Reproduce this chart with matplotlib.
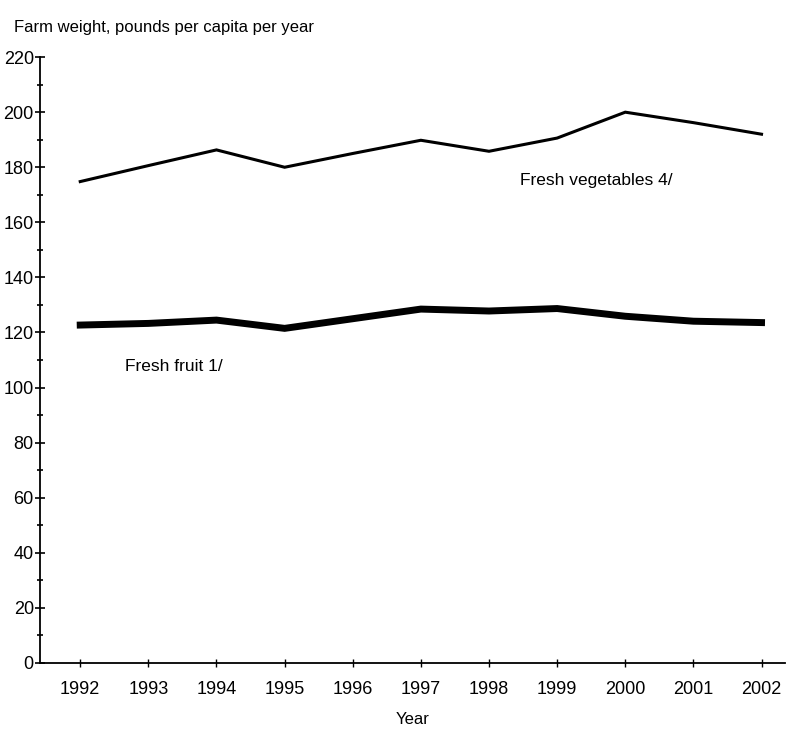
import matplotlib
matplotlib.use("Agg")
import matplotlib.pyplot as plt
from matplotlib import font_manager
from matplotlib.ticker import MultipleLocator

years = [1992, 1993, 1994, 1995, 1996, 1997, 1998, 1999, 2000, 2001, 2002]
vegetables = [174.8, 180.6, 186.3, 180.0, 185.0, 189.8, 185.8, 190.6, 200.0, 196.2, 192.0]
fruit = [122.7, 123.3, 124.5, 121.5, 125.0, 128.5, 127.8, 128.7, 125.9, 124.1, 123.6]

names = {f.name for f in font_manager.fontManager.ttflist}
fam = "Liberation Sans Narrow" if "Liberation Sans Narrow" in names else "Liberation Sans"
plt.rcParams['font.family'] = [fam, 'DejaVu Sans']

fig = plt.figure(figsize=(7.88, 7.32), dpi=100)
ax = fig.add_axes([0.0508, 0.0943, 0.945, 0.8277])

ax.plot(years, vegetables, color='black', lw=2.2, solid_joinstyle='miter')
ax.plot(years, fruit, color='black', lw=5.0, solid_joinstyle='miter')

ax.set_xlim(1991.41, 2002.34)
ax.set_ylim(0, 220)
ax.set_xticks(years)
ax.set_xticklabels([str(y) for y in years])
ax.yaxis.set_major_locator(MultipleLocator(20))
ax.yaxis.set_minor_locator(MultipleLocator(10))

for s in ['top', 'right']:
    ax.spines[s].set_visible(False)
for s in ['left', 'bottom']:
    ax.spines[s].set_linewidth(1.3)

ax.tick_params(axis='y', which='major', direction='inout', length=7, width=1.2, pad=1, labelsize=13)
ax.tick_params(axis='y', which='minor', direction='inout', length=5, width=1.2)
ax.tick_params(axis='x', which='major', direction='inout', length=6, width=1.0, pad=10, labelsize=13)

ax.set_xlabel("Year", fontsize=12, labelpad=10)

fig.text(0.018, 0.963, "Farm weight, pounds per capita per year", fontsize=12, ha='left', va='center')

ax.text(1998.45, 175.3, "Fresh vegetables 4/", fontsize=12.5, ha='left', va='center')
ax.text(1992.65, 107.8, "Fresh fruit 1/", fontsize=12.5, ha='left', va='center')

fig.savefig("out.png", dpi=100)
